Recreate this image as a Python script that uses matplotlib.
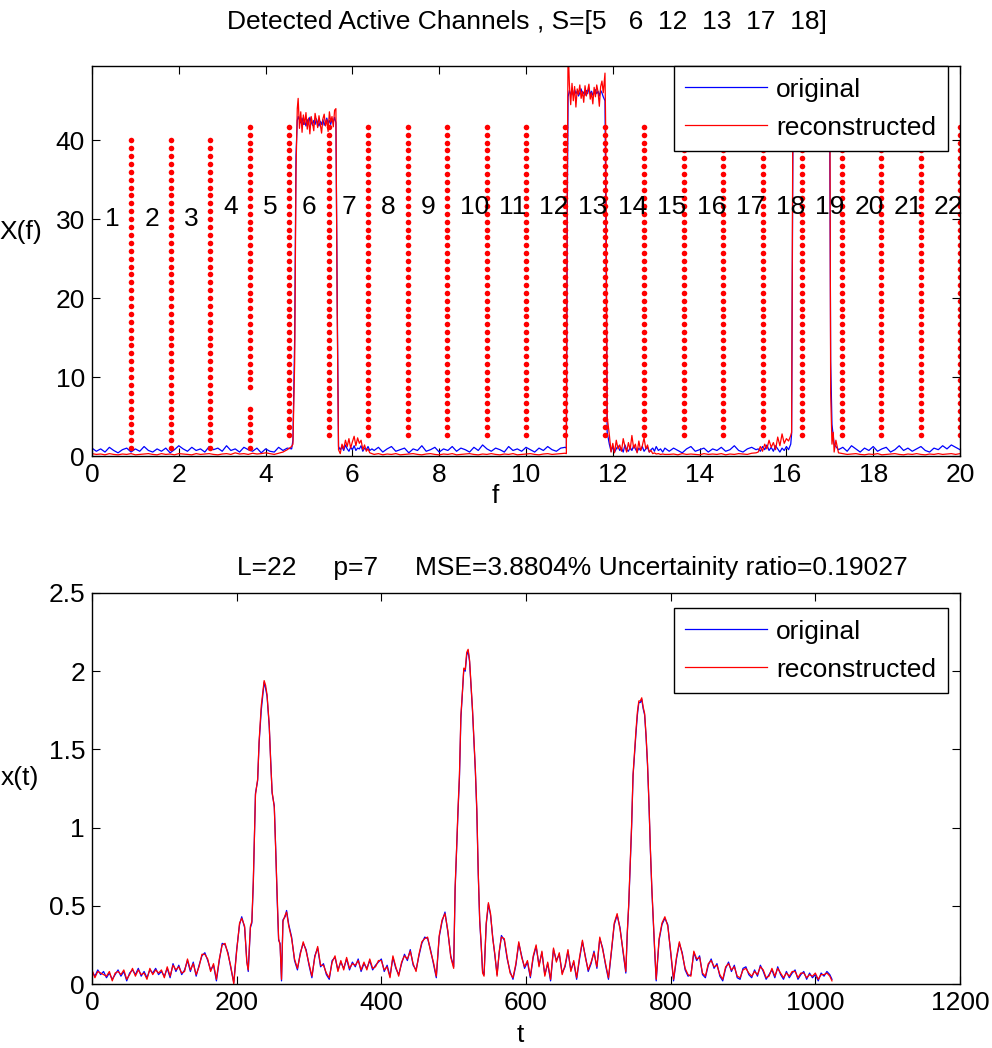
import numpy as np
import matplotlib
matplotlib.use("Agg")
import matplotlib.pyplot as plt

plt.rcParams['font.family'] = ['Liberation Sans', 'DejaVu Sans']

# ---------------- Top panel data: spectrum X(f) ----------------
f_spec = [0.0,0.1,0.2,0.3,0.4,0.5,0.6,0.7,0.8,0.9,1.0,1.1,1.2,1.3,1.4,1.5,1.6,1.7,1.8,1.9,
          2.0,2.1,2.2,2.3,2.4,2.5,2.6,2.7,2.8,2.9,3.0,3.1,3.2,3.3,3.4,3.5,3.6,3.7,3.8,3.9,
          4.0,4.1,4.2,4.3,4.4,4.5,4.6,
          4.63,4.67,4.70,4.73,4.75,4.78,4.81,4.84,4.87,4.90,4.93,4.96,4.99,5.02,5.05,5.08,5.11,5.14,5.17,5.20,
          5.23,5.26,5.29,5.32,5.35,5.38,5.41,5.44,5.47,5.50,5.53,5.56,5.59,5.62,5.65,5.68,
          5.72,5.76,5.80,5.84,5.88,5.92,5.96,6.00,6.04,6.08,6.12,6.16,6.20,6.24,6.28,6.32,6.36,6.40,6.45,
          6.5,6.6,6.7,6.8,6.9,7.0,7.1,7.2,7.3,7.4,7.5,7.6,7.7,7.8,7.9,8.0,8.1,8.2,8.3,8.4,
          8.5,8.6,8.7,8.8,8.9,9.0,9.1,9.2,9.3,9.4,9.5,9.6,9.7,9.8,9.9,10.0,10.1,10.2,10.3,10.4,
          10.5,10.6,10.7,10.8,10.9,
          10.93,10.95,10.97,11.00,11.03,11.06,11.09,11.12,11.15,11.18,11.21,11.24,11.27,11.30,11.33,11.36,
          11.39,11.42,11.45,11.48,11.51,11.54,11.57,11.60,11.63,11.66,11.69,11.72,11.75,11.78,11.82,11.84,11.87,
          11.92,11.96,12.00,12.04,12.08,12.12,12.16,12.20,12.24,12.28,12.32,12.36,12.40,12.44,12.48,12.52,
          12.56,12.60,12.64,12.68,12.72,12.76,12.80,12.84,12.88,12.92,12.96,13.00,13.05,13.10,13.15,13.20,
          13.3,13.4,13.5,13.6,13.7,13.8,13.9,14.0,14.1,14.2,14.3,14.4,14.5,14.6,14.7,14.8,14.9,15.0,15.1,15.2,15.3,
          15.35,15.40,15.45,15.50,15.55,15.60,15.65,15.70,15.75,15.80,15.85,15.90,15.95,16.00,16.05,16.10,
          16.12,16.15,16.17,16.50,16.98,17.00,17.02,17.05,17.08,17.10,17.14,
          17.2,17.3,17.4,17.5,17.6,17.7,17.8,17.9,18.0,18.1,18.2,18.3,18.4,18.5,18.6,18.7,18.8,18.9,19.0,19.1,
          19.2,19.3,19.4,19.5,19.6,19.7,19.8,19.9,20.0]

X_original = [1.0,0.6,0.9,0.5,1.1,0.7,0.4,0.8,1.0,0.5,0.9,0.6,1.2,0.7,0.5,0.9,0.6,1.0,0.4,0.8,
              1.3,0.9,0.6,1.1,0.7,0.9,0.5,1.2,0.8,1.0,0.6,1.3,0.7,0.9,0.5,1.1,0.8,0.6,1.0,0.4,
              0.9,0.6,0.5,1.1,0.7,1.0,0.9,
              2.0,15,38,42.5,43.0,42.6,42.2,42.8,42.0,42.4,41.8,42.6,42.1,42.9,42.3,41.9,42.5,42.0,42.7,42.2,
              41.8,42.4,42.0,42.6,41.9,42.3,42.8,42.1,42.5,42.0,42.7,42.3,42.9,42.2,20,1.2,
              0.8,1.2,0.7,1.4,0.9,0.6,1.1,0.8,1.3,0.7,1.0,0.9,1.3,0.6,1.0,0.8,1.2,0.7,0.9,
              0.7,1.1,0.5,0.9,1.2,0.6,0.8,1.0,0.4,0.9,0.7,1.3,0.6,0.8,1.1,0.5,0.9,0.7,1.2,0.6,
              1.0,0.8,0.5,1.1,0.7,1.4,0.9,0.6,1.0,0.8,0.5,1.2,0.7,0.9,0.6,1.1,0.8,0.5,1.0,0.7,
              1.2,0.8,0.6,1.0,1.1,
              1.0,30,45.5,46.3,45.8,46.1,45.7,46.4,45.9,46.2,45.6,46.0,46.5,45.8,46.1,45.7,
              46.3,45.9,46.6,45.8,46.2,45.7,46.0,46.4,45.9,46.2,45.6,46.3,46.0,45.5,45.0,30,3.0,
              1.5,0.6,1.2,0.5,0.9,1.3,0.7,1.0,0.5,1.4,0.8,0.6,1.1,0.7,1.3,0.9,
              0.5,1.0,0.7,1.2,0.6,0.9,1.1,0.5,0.8,1.0,0.6,1.2,0.7,0.9,0.5,1.0,
              0.6,1.0,0.7,0.4,0.9,1.2,0.6,0.8,1.0,0.5,0.9,0.7,1.1,0.6,0.8,1.3,0.7,0.5,0.9,1.1,0.8,
              0.9,0.6,1.2,0.8,1.4,0.7,1.1,0.6,1.3,0.9,0.5,1.0,0.7,1.2,0.8,1.5,
              2.8,40,60,60,60,40,12,4.0,2.5,1.5,1.2,
              0.8,1.1,0.6,1.3,0.9,0.5,1.0,0.7,1.2,0.6,0.9,1.1,0.5,0.8,1.3,0.7,1.0,0.6,0.9,1.2,
              0.7,0.5,1.0,0.8,1.3,0.9,1.4,1.1,0.8]

X_reconstructed = [0.3,0.2,0.25,0.15,0.3,0.2,0.15,0.25,0.2,0.3,0.15,0.2,0.25,0.3,0.2,0.15,0.3,0.2,0.25,0.15,
                   0.3,0.25,0.2,0.15,0.3,0.2,0.25,0.3,0.2,0.15,0.25,0.3,0.2,0.4,0.25,0.3,0.2,0.35,0.25,0.3,
                   0.4,0.3,0.2,0.35,0.5,0.8,1.2,
                   1.5,12,36,44.0,45.3,41.5,43.6,41.0,43.2,42.0,43.5,41.4,42.8,40.8,43.0,42.2,41.2,43.4,42.5,41.6,
                   43.1,42.0,40.9,42.7,43.3,41.8,42.6,41.1,43.6,42.3,43.0,41.7,43.8,44.0,18,0.8,
                   0.3,1.5,0.9,2.0,1.2,2.2,1.0,1.8,2.5,1.3,2.3,1.6,2.0,0.8,1.4,0.6,0.9,0.4,0.3,
                   0.2,0.3,0.15,0.25,0.2,0.3,0.15,0.2,0.25,0.3,0.2,0.15,0.25,0.3,0.2,0.15,0.25,0.2,0.3,0.15,
                   0.2,0.25,0.3,0.2,0.15,0.25,0.2,0.3,0.2,0.15,0.25,0.2,0.3,0.15,0.2,0.25,0.3,0.2,0.15,0.25,
                   0.3,0.2,0.25,0.3,0.35,
                   0.3,35,52,47.0,44.5,47.2,45.0,46.8,44.2,46.5,45.8,47.0,45.3,46.2,44.8,46.9,
                   45.6,46.3,47.1,45.2,46.0,44.6,46.7,45.5,47.0,46.1,44.3,46.8,47.5,46.0,48.5,40,5.0,
                   2.7,0.5,1.6,0.4,2.0,0.9,1.4,0.6,2.2,1.2,0.5,1.7,0.8,2.6,1.0,1.5,
                   0.4,1.9,0.7,1.3,2.3,0.9,1.4,0.5,0.7,0.3,0.4,0.25,0.3,0.2,0.25,0.2,
                   0.2,0.25,0.15,0.3,0.2,0.25,0.2,0.15,0.3,0.2,0.25,0.2,0.3,0.15,0.25,0.2,0.3,0.25,0.2,0.35,0.4,
                   0.5,1.2,0.6,1.5,0.9,2.0,1.1,1.7,0.8,2.4,1.3,2.8,1.6,2.2,1.9,2.6,
                   3.0,45,60,60,60,48,8,1.5,3.0,0.5,2.0,
                   0.4,0.3,0.2,0.25,0.3,0.2,0.15,0.25,0.2,0.3,0.15,0.2,0.25,0.3,0.2,0.15,0.25,0.2,0.3,0.2,
                   0.15,0.25,0.2,0.3,0.2,0.25,0.3,0.2,0.3]

# channel boundary dotted markers (boundary index, lowest dot, highest dot, number of dots)
n_channels = 22
f_max = 20.0
dot_boundary = [1, 2, 3, 4, 4, 5, 6, 7, 8, 9, 10, 11, 12, 13, 14, 15, 16, 17, 18, 19, 20, 21, 22]
dot_low  = [1.0, 1.0, 1.0, 1.0, 8.7] + [2.66] * 18
dot_high = [40.0, 40.0, 40.0, 6.0, 41.7] + [41.7] * 18
dot_count = [40, 40, 40, 6, 34] + [40] * 18

channel_labels = [str(i) for i in range(1, 23)]
label_y = [30.0, 30.0, 30.0] + [31.6] * 19

# ---------------- Bottom panel data: time signal x(t) ----------------
t_samples = (list(range(0, 101, 4)) + list(range(104, 201, 4)) +
             [204,207,211,214,216,219,221,223,226,229,231,234,236,238,240,242,245,247,249,252,
              254,256,258,260,262,264,267,269,272] +
             list(range(276, 401, 4)) + list(range(404, 501, 4)) +
             [502,504,506,508,510,512,514,516,518,520,522,524,526,528,530,532,534,536,538,540,
              542,545,548,551,554,557,560,563,566,570,574,578,582,586,590,594,598] +
             list(range(602, 739, 4)) + list(range(740, 781, 2)) +
             list(range(784, 901, 4)) + list(range(904, 1021, 4)) + [1023])

x_original = [.08,.05,.09,.06,.08,.04,.07,.03,.06,.09,.05,.08,.02,.07,.09,.06,.10,.05,.08,.04,.09,.07,.10,.06,.08,.05,
              .10,.04,.13,.08,.12,.06,.09,.15,.08,.14,.05,.12,.18,.20,.15,.09,.12,.02,.15,.26,.25,.20,.10,.01,.22,
              .38,.43,.36,.15,.08,.36,.39,.64,1.22,1.30,1.54,1.75,1.84,1.93,1.89,1.84,1.65,1.43,1.22,1.14,
              .86,.54,.28,.26,.02,.41,.43,.47,.38,
              .30,.15,.09,.20,.26,.22,.12,.04,.18,.23,.11,.13,.06,.03,.15,.17,.09,.14,.10,.16,
              .09,.14,.11,.16,.08,.13,.10,.15,.09,.12,.14,.16,
              .08,.12,.05,.17,.10,.06,.13,.19,.15,.22,.12,.09,.18,.26,.30,.29,.22,.13,.04,.30,.40,.46,.33,.18,.11,
              .60,.85,1.10,1.32,1.70,1.85,2.01,2.00,2.10,2.13,2.06,1.90,1.75,1.55,1.36,1.10,.70,.40,.25,.08,
              .06,.38,.51,.44,.30,.18,.06,.20,.31,.28,.16,.08,.03,.12,.26,.18,.10,
              .14,.04,.17,.24,.12,.20,.06,.13,.02,.22,.15,.19,.07,.11,.21,.09,.14,.03,.16,.27,
              .18,.08,.13,.21,.10,.29,.23,.12,.03,.20,.38,.44,.36,.21,.07,
              .32,.50,.75,1.00,1.33,1.47,1.60,1.72,1.80,1.80,1.82,1.76,1.72,1.58,1.40,1.15,.85,.60,.40,.20,.02,
              .28,.38,.42,.38,.20,.02,.16,.26,.20,.09,.05,.06,.20,.15,.18,.06,.04,.12,.16,.10,
              .13,.05,.02,.10,.14,.08,.12,.04,.03,.10,
              .11,.06,.04,.09,.05,.12,.08,.03,.06,.09,.04,.11,.06,.03,.08,.04,.07,.09,.03,.06,
              .08,.03,.07,.04,.06,.02,.07,.05,.08,.06,.03]

x_reconstructed = [.09,.04,.08,.07,.06,.05,.08,.02,.07,.08,.06,.09,.03,.06,.10,.05,.09,.06,.07,.03,.10,.06,.09,.07,.09,.04,
                   .11,.05,.12,.09,.11,.07,.08,.16,.09,.13,.06,.11,.19,.19,.16,.08,.13,.03,.16,.25,.26,.19,.11,.00,.21,
                   .39,.42,.37,.14,.09,.37,.40,.66,1.21,1.31,1.55,1.78,1.86,1.94,1.91,1.85,1.66,1.42,1.23,1.13,
                   .85,.55,.29,.25,.03,.40,.44,.46,.37,
                   .29,.16,.10,.19,.27,.21,.13,.05,.17,.24,.12,.12,.07,.04,.14,.18,.08,.15,.09,.17,
                   .10,.13,.12,.15,.09,.14,.09,.16,.10,.11,.15,.15,
                   .09,.11,.04,.18,.11,.05,.14,.18,.16,.21,.13,.08,.19,.27,.29,.30,.21,.14,.05,.31,.41,.45,.34,.17,.10,
                   .62,.86,1.12,1.34,1.72,1.86,2.02,2.01,2.12,2.14,2.07,1.92,1.76,1.57,1.37,1.12,.71,.41,.26,.07,
                   .05,.39,.52,.45,.29,.19,.05,.21,.30,.29,.17,.07,.04,.13,.27,.17,.11,
                   .15,.05,.18,.25,.11,.21,.05,.14,.03,.23,.14,.20,.06,.12,.22,.08,.15,.04,.17,.28,
                   .17,.09,.14,.20,.11,.30,.22,.13,.04,.21,.39,.45,.35,.22,.08,
                   .33,.51,.77,1.02,1.34,1.48,1.62,1.74,1.81,1.81,1.83,1.77,1.73,1.59,1.41,1.16,.86,.61,.41,.21,.03,
                   .29,.39,.43,.37,.21,.03,.17,.27,.19,.10,.06,.05,.21,.16,.17,.07,.05,.13,.15,.11,
                   .12,.06,.03,.11,.13,.09,.11,.05,.04,.09,
                   .10,.07,.05,.08,.06,.11,.09,.04,.05,.10,.05,.10,.07,.04,.07,.05,.08,.08,.04,.07,
                   .07,.04,.06,.05,.07,.03,.06,.06,.07,.05,.02]

top_title = "Detected Active Channels , S=[5   6  12  13  17  18]"
bottom_title = "L=22     p=7     MSE=3.8804% Uncertainity ratio=0.19027"

# ---------------- Figure ----------------
W, H = 992, 1048
fig = plt.figure(figsize=(W / 100, H / 100), dpi=100)
FS = 19

def px_axes(x0, y0, x1, y1):
    return fig.add_axes([x0 / W, 1 - y1 / H, (x1 - x0) / W, (y1 - y0) / H])

def style(ax):
    ax.tick_params(direction='in', top=True, right=True, length=6, width=0.8,
                   labelsize=FS, pad=5, colors='black')
    for s in ax.spines.values():
        s.set_linewidth(1.0)
        s.set_color('black')

leg_kw = dict(fontsize=FS, frameon=True, fancybox=False, edgecolor='black', framealpha=1,
              handlelength=3.1, handletextpad=0.35, borderpad=0.44, labelspacing=0.53,
              borderaxespad=0)

ax1 = px_axes(92, 66, 960, 456)
ax1.plot(f_spec, X_original, color='blue', lw=0.9, label='original')
ax1.plot(f_spec, X_reconstructed, color='red', lw=0.9, label='reconstructed')
for b, lo, hi, n in zip(dot_boundary, dot_low, dot_high, dot_count):
    fx = b * f_max / n_channels
    ax1.plot(np.full(n, fx), np.linspace(lo, hi, n), linestyle='none', marker='o',
             ms=4.0, mfc='red', mec='none')
for i, (lab, ly) in enumerate(zip(channel_labels, label_y)):
    center = (i + 0.5) * f_max / n_channels
    ax1.text(center - 0.16, ly, lab, ha='left', va='center', fontsize=FS)
ax1.set_xlim(0, 20)
ax1.set_ylim(0, 49.4)
ax1.set_xticks(range(0, 21, 2))
ax1.set_yticks([0, 10, 20, 30, 40])
style(ax1)
leg1 = ax1.legend(loc='upper right', bbox_to_anchor=(0.986, 1.0), **leg_kw)
leg1.get_frame().set_linewidth(1.0)

ax2 = px_axes(92, 593, 960, 984)
ax2.plot(t_samples, x_original, color='blue', lw=0.9, label='original')
ax2.plot(t_samples, x_reconstructed, color='red', lw=0.9, label='reconstructed')
ax2.set_xlim(0, 1200)
ax2.set_ylim(0, 2.5)
ax2.set_xticks(range(0, 1201, 200))
ax2.set_yticks([0, 0.5, 1, 1.5, 2, 2.5])
ax2.set_yticklabels(['0', '0.5', '1', '1.5', '2', '2.5'])
style(ax2)
leg2 = ax2.legend(loc='upper right', bbox_to_anchor=(0.986, (984 - 608) / 391), **leg_kw)
leg2.get_frame().set_linewidth(1.0)

# titles and axis labels
fig.text(527 / W, 1 - 22 / H, top_title, ha='center', va='center', fontsize=FS)
fig.text(572 / W, 1 - 568 / H, bottom_title, ha='center', va='center', fontsize=FS)
fig.text(21 / W, 1 - 232 / H, "X(f)", ha='center', va='center', fontsize=FS)
fig.text(20 / W, 1 - 778 / H, "x(t)", ha='center', va='center', fontsize=FS)
fig.text(495 / W, 1 - 496 / H, "f", ha='center', va='center', fontsize=FS)
fig.text(520 / W, 1 - 1035 / H, "t", ha='center', va='center', fontsize=FS)

fig.savefig("out.png", dpi=100, facecolor='white')
